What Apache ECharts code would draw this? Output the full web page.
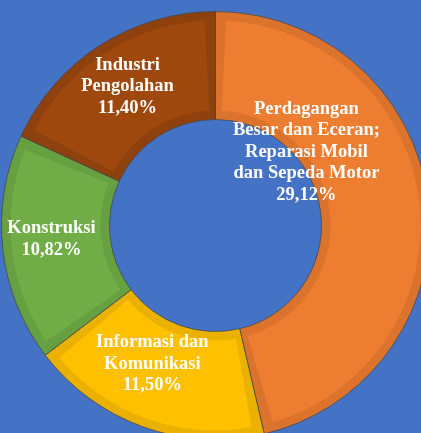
<!DOCTYPE html>
<html>
<head>
<meta charset="utf-8">
<script src="https://cdn.jsdelivr.net/npm/echarts@6/dist/echarts.min.js"></script>
<style>
html,body{margin:0;padding:0;background:#4472C4;}
#chart{width:421px;height:433px;}
</style>
</head>
<body>
<div id="chart"></div>
<script>
const categories = [
  "Perdagangan\nBesar dan Eceran;\nReparasi Mobil\ndan Sepeda Motor",
  "Informasi dan\nKomunikasi",
  "Konstruksi",
  "Industri\nPengolahan"
];
const values = [29.12, 11.50, 10.82, 11.40];
const valueLabels = ["29,12%", "11,50%", "10,82%", "11,40%"];

const lightColors = ["#ED7D31", "#FFC000", "#70AD47", "#9E480E"];
const darkColors  = ["#DB732D", "#EBB100", "#66A041", "#8E410D"];
const labelShift = [[-71, -55], [-8, -15], [-2, -4], [0, -2]];

const chart = echarts.init(document.getElementById('chart'), null, {renderer: 'canvas'});
const baseData = categories.map((c, i) => ({name: c, value: values[i], itemStyle: {color: darkColors[i]}}));
const topData = categories.map((c, i) => ({name: c, value: values[i], itemStyle: {color: lightColors[i]}}));

chart.setOption({
  backgroundColor: '#4472C4',
  animation: false,
  series: [
    {
      type: 'pie',
      center: [215.5, 225.5],
      radius: [106, 214],
      startAngle: 90,
      clockwise: true,
      silent: true,
      label: {show: false},
      labelLine: {show: false},
      itemStyle: {borderColor: 'rgba(70,70,70,0.75)', borderWidth: 1},
      data: baseData
    },
    {
      type: 'pie',
      center: [215.5, 225.5],
      radius: [115, 205],
      startAngle: 90,
      clockwise: true,
      padAngle: 6,
      silent: true,
      itemStyle: {borderWidth: 0},
      labelLine: {show: false},
      label: {
        show: true,
        position: 'inside',
        color: '#ffffff',
        fontFamily: '"Liberation Serif", "Times New Roman", serif',
        fontWeight: 'bold',
        fontSize: 18.5,
        lineHeight: 21.5,
        align: 'center',
        formatter: p => p.name + '\n' + valueLabels[p.dataIndex]
      },
      labelLayout: p => ({dx: labelShift[p.dataIndex][0], dy: labelShift[p.dataIndex][1]}),
      data: topData
    }
  ]
});
</script>
</body>
</html>
